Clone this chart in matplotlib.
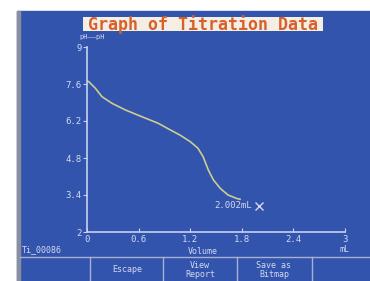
import matplotlib
matplotlib.use("Agg")
import matplotlib.pyplot as plt
from matplotlib.patches import Rectangle

# titration data
volume = [0.0, 0.02, 0.097, 0.174, 0.29, 0.445, 0.64, 0.83, 0.97, 1.08, 1.20,
          1.29, 1.35, 1.41, 1.47, 1.55, 1.64, 1.74, 1.78]
ph = [7.72, 7.69, 7.44, 7.12, 6.87, 6.62, 6.36, 6.11, 5.86, 5.67, 5.42,
      5.17, 4.85, 4.35, 3.97, 3.65, 3.40, 3.27, 3.24]

x_ticks = [0, 0.6, 1.2, 1.8, 2.4, 3]
x_tick_labels = ["0", "0.6", "1.2", "1.8", "2.4", "3"]
y_ticks = [2, 3.4, 4.8, 6.2, 7.6, 9]
y_tick_labels = ["2", "3.4", "4.8", "6.2", "7.6", "9"]

cursor_volume = 2.002
cursor_ph = 3.0
buttons = ["Escape", "View\nReport", "Save as\nBitmap"]

W, H = 370, 281
blue = "#3254ac"
fg = "#d4d8f0"
mono = "DejaVu Sans Mono"

fig = plt.figure(figsize=(W / 100, H / 100), dpi=100)
fig.patch.set_facecolor("white")

# background in pixel coordinates
bg = fig.add_axes([0, 0, 1, 1])
bg.set_xlim(0, W)
bg.set_ylim(H, 0)
bg.axis("off")
bg.add_patch(Rectangle((17, 11), W - 17, H - 11, color=blue, zorder=0))
bg.add_patch(Rectangle((17, 11), 3, H - 11, color="#8a8fa0", zorder=1))

# title box
bg.add_patch(Rectangle((83, 17), 240, 14, facecolor="#f4eee4", edgecolor="none", zorder=2))
bg.text(203, 24.5, "Graph of Titration Data", ha="center", va="center",
        fontsize=12, family=mono, fontweight="bold", color="#d8602a", zorder=3)
bg.text(92, 37, "pH\u2014\u2014pH", ha="center", va="center", fontsize=5,
        family=mono, color=fg)

# bottom bar
bg.plot([20, W], [257, 257], color="#a8b0d0", lw=1)
for xs in [90, 163, 237, 312]:
    bg.plot([xs, xs], [257, H], color="#a8b0d0", lw=1)
for cx, label in zip([127, 200, 274], buttons):
    bg.text(cx, 270, label, ha="center", va="center", fontsize=6, family=mono,
            color=fg, linespacing=1.0)
bg.text(22, 250, "Ti_00086", ha="left", va="center", fontsize=6, family=mono, color=fg)
bg.text(203, 251, "Volume", ha="center", va="center", fontsize=6, family=mono, color=fg)
bg.text(345, 250, "mL", ha="center", va="center", fontsize=6, family=mono, color=fg)

# graph
ax = fig.add_axes([87 / W, (H - 232) / H, 258 / W, 185 / H])
ax.set_facecolor("none")
ax.plot(volume, ph, color="#cccc94", lw=1.2, solid_joinstyle="round")
ax.plot([cursor_volume], [cursor_ph], marker="x", color=fg, ms=6, mew=1)
ax.text(cursor_volume - 0.08, cursor_ph, "2.002mL", ha="right", va="center",
        fontsize=6.5, family=mono, color=fg)
ax.set_xlim(0, 3)
ax.set_ylim(2, 9)
ax.set_xticks(x_ticks)
ax.set_xticklabels(x_tick_labels)
ax.set_yticks(y_ticks)
ax.set_yticklabels(y_tick_labels)
for s in ["top", "right"]:
    ax.spines[s].set_visible(False)
for s in ["left", "bottom"]:
    ax.spines[s].set_color("#c8d0f4")
    ax.spines[s].set_linewidth(1.2)
ax.tick_params(axis="x", direction="in", length=3, colors="#c8d0f4",
               labelcolor=fg, labelsize=6.5, pad=2)
ax.tick_params(axis="y", direction="out", length=3, colors="#c8d0f4",
               labelcolor=fg, labelsize=6.5, pad=1)
for lab in ax.get_xticklabels() + ax.get_yticklabels():
    lab.set_family(mono)

fig.savefig("out.png", dpi=100, facecolor=fig.get_facecolor())
